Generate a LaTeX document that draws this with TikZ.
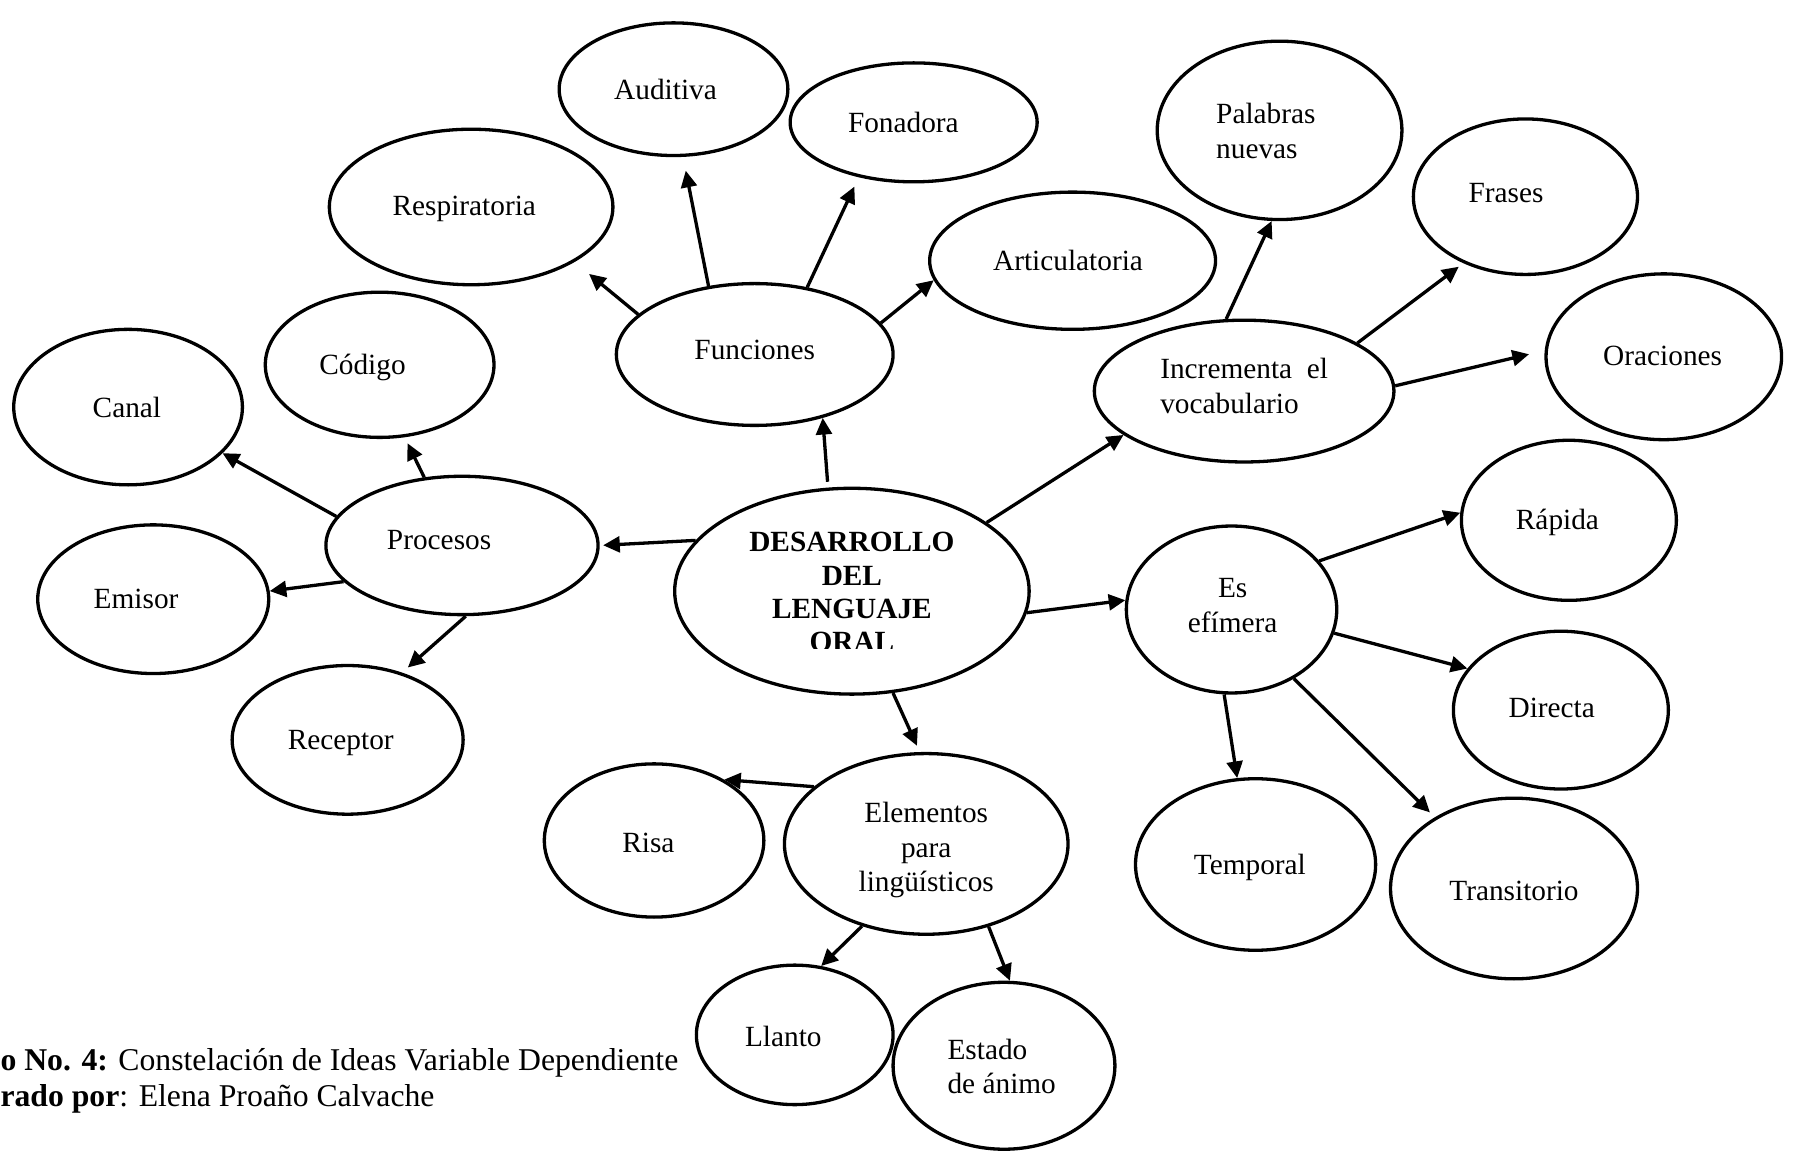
\documentclass[tikz,border=0pt]{standalone}
\usepackage{fontspec}
\setmainfont{Liberation Serif}
\usetikzlibrary{arrows.meta,shapes.geometric}
\begin{document}
\begin{tikzpicture}[x=0.4329pt,y=-0.4329pt,
  ell/.style 2 args={draw, ellipse, line width=1.25pt, inner sep=0pt,
    minimum width=#1*0.4329pt, minimum height=#2*0.4329pt},
  lbl/.style={inner sep=0pt, font=\fontsize{11.1}{13}\selectfont, align=center,
    text height=7.6pt, text depth=0pt},
  lblm/.style={inner sep=0pt, font=\fontsize{11.1}{13}\selectfont, align=center},
  lbll/.style={inner sep=0pt, font=\fontsize{11.1}{13}\selectfont, align=left},
  captxt/.style={anchor=base west, inner sep=0pt, font=\fontsize{12}{13.8}\selectfont},
  arr/.style={line width=1.25pt, -{Triangle[length=6.3pt,width=6pt]}},
]
\useasboundingbox (0,0) rectangle (1568,1007);

% ellipses
\node[ell={200}{116}] (aud) at (589,78) {};
\node[ell={216}{104}] (fon) at (799,107) {};
\node[ell={248}{136}] (resp) at (412,181) {};
\node[ell={250}{120}] (art) at (938,228) {};
\node[ell={242}{124}] (fun) at (660,310) {};
\node[ell={200}{127}] (cod) at (332,319) {};
\node[ell={200}{136}] (can) at (112,356) {};
\node[ell={238}{121}] (pro) at (404,477) {};
\node[ell={202}{130}] (emi) at (134,524) {};
\node[ell={202}{130}] (rec) at (304,647) {};
\node[ell={310}{180}] (cen) at (745,517) {};
\node[ell={214}{156}] (pal) at (1119,114) {};
\node[ell={196}{136}] (fra) at (1334,172) {};
\node[ell={206}{145}] (ora) at (1455,312) {};
\node[ell={262}{124}] (inc) at (1088,342) {};
\node[ell={188}{140}] (rap) at (1372,455) {};
\node[ell={184}{146}] (efi) at (1077,533) {};
\node[ell={188}{138}] (dir) at (1365,621) {};
\node[ell={210}{150}] (tem) at (1098,756) {};
\node[ell={216}{158}] (tra) at (1324,777) {};
\node[ell={248}{158}] (ele) at (810,738) {};
\node[ell={192}{134}] (ris) at (572,735) {};
\node[ell={172}{122}] (lla) at (695,905) {};
\node[ell={194}{146}] (est) at (878,932) {};

% labels
\node[lbl] (aud-t) at (582,78) {Auditiva};
\node[lbl] (fon-t) at (790,107) {Fonadora};
\node[lbl] (resp-t) at (406,180) {Respiratoria};
\node[lbl] (art-t) at (934,228) {Articulatoria};
\node[lbl] (fun-t) at (660,306) {Funciones};
\node[lbl] (cod-t) at (317,319) {Código};
\node[lbl] (can-t) at (111,356) {Canal};
\node[lbl] (pro-t) at (384,472) {Procesos};
\node[lbl] (emi-t) at (119,523) {Emisor};
\node[lbl] (rec-t) at (298,647) {Receptor};
\begin{scope}
  \clip (580,420) rectangle (910,567.3);
  \node[lblm, font=\bfseries\fontsize{11.1}{12.6}\selectfont] (cen-t) at (745,518) {DESARROLLO\\DEL\\LENGUAJE\\ORAL};
\end{scope}
\node[lbll] (pal-t) at (1107,114.5) {Palabras\\nuevas};
\node[lbl] (fra-t) at (1317,168) {Frases};
\node[lbl] (ora-t) at (1454,311) {Oraciones};
\node[lbll] (inc-t) at (1088,337.5) {Incrementa\ \ el\\vocabulario};
\node[lbl] (rap-t) at (1362,454) {Rápida};
\node[lblm] (efi-t) at (1078,529.5) {Es\\efímera};
\node[lbl] (dir-t) at (1357,619) {Directa};
\node[lbl] (tem-t) at (1093,756) {Temporal};
\node[lbl] (tra-t) at (1324,779) {Transitorio};
\node[lblm] (ele-t) at (810,743.5) {Elementos\\para\\lingüísticos};
\node[lbl] (ris-t) at (567,737) {Risa};
\node[lbl] (lla-t) at (685,906) {Llanto};
\node[lbll] (est-t) at (876,932.5) {Estado\\de ánimo};

% caption
\node[captxt] (cap1) at (0,936) {\textbf{o No. 4:} Constelación de Ideas Variable Dependiente};
\node[captxt] (cap2) at (0,968) {\textbf{rado por}: Elena Proaño Calvache};

% arrows
\draw[arr, shorten <=2.2pt] (cen.103.5) -- (fun.-43.5);
\draw[arr, shorten >=7.1pt] (fun.161.2) -- (resp.-28.8);
\draw[arr, shorten >=5.3pt] (fun.124.4) -- (aud.-82.7);
\draw[arr, shorten >=3.9pt] (fun.52.8) -- (fon.-135.5);
\draw[arr] (fun.14.3) -- (art.-172.9);
\draw[arr, shorten >=1.3pt] (cen.162.8) -- (pro.0.9);
\draw[arr, shorten >=2.5pt] (pro.119.9) -- (cod.-71.05);
\draw[arr] (pro.167.4) -- (can.-26.9);
\draw[arr] (pro.-163.4) -- (emi.4);
\draw[arr, shorten >=2.9pt] (pro.-87.2) -- (rec.51.6);
\draw[arr] (cen.27.3) -- (inc.-160.9);
\draw[arr] (inc.104.9) -- (pal.-95.1);
\draw[arr, shorten >=2.2pt] (inc.23.9) -- (fra.-133.1);
\draw[arr, shorten >=6.1pt] (inc.2.2) -- (ora.177.1);
\draw[arr] (cen.-7.2) -- (efi.175);
\draw[arr] (efi.29.9) -- (rap.176.3);
\draw[arr] (efi.-13.9) -- (dir.156.3);
\draw[arr] (efi.-95) -- (tem.102.5);
\draw[arr, shorten >=2.6pt] (efi.-48.5) -- (tra.138.3);
\draw[arr, shorten >=2.6pt] (cen.-68) -- (ele.94.7);
\draw[arr] (ele.153.9) -- (ris.41.9);
\draw[arr] (ele.-128.9) -- (lla.69.8);
\draw[arr] (ele.-53.4) -- (est.86.9);
\end{tikzpicture}
\end{document}
